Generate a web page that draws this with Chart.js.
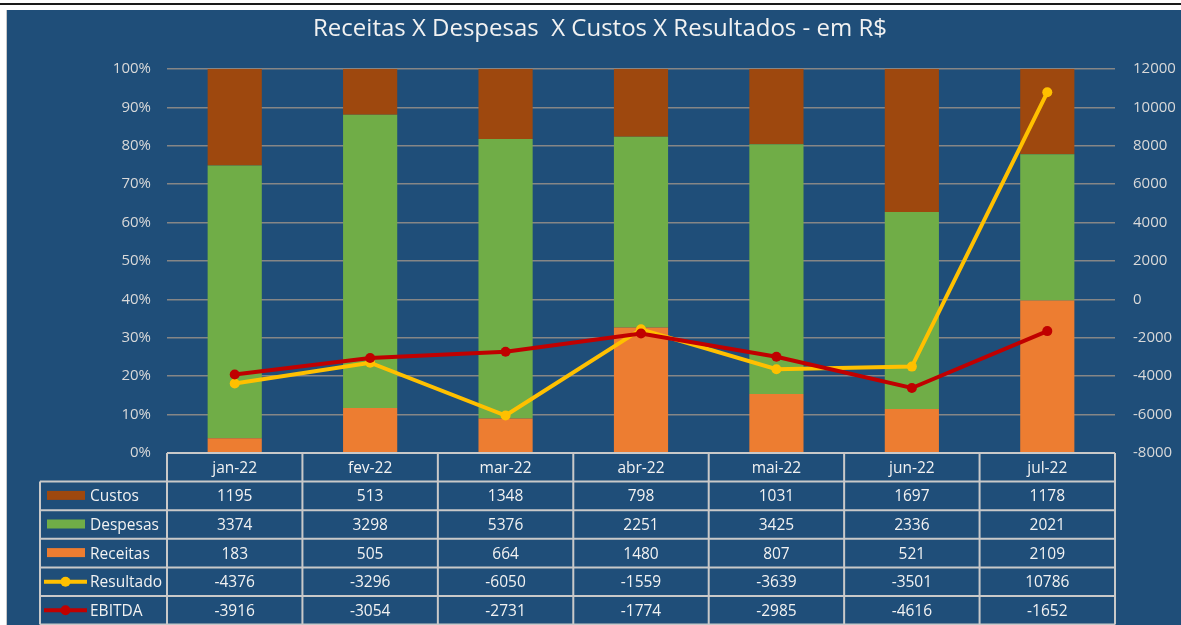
<!DOCTYPE html>
<html lang="pt-BR">
<head>
<meta charset="utf-8">
<title>Receitas X Despesas X Custos X Resultados</title>
<script src="https://cdn.jsdelivr.net/npm/chart.js@4/dist/chart.umd.min.js"></script>
<style>
  html, body { margin: 0; padding: 0; background: #fff; width: 1181px; height: 625px; overflow: hidden; }
  .linha-topo { position: absolute; left: 0; top: 3px; width: 1181px; height: 2px; background: #1a1a1a; }
  .caixa { position: absolute; left: 6px; top: 10px; width: 1174px; height: 615px; background: #1F4E79; border-left: 1px solid #c8c8c8; }
  canvas { display: block; }
</style>
</head>
<body>
<div class="linha-topo"></div>
<div class="caixa">
  <canvas id="financeChart" width="1174" height="615"></canvas>
</div>

<script>
// dados do gráfico
const meses = ['jan-22', 'fev-22', 'mar-22', 'abr-22', 'mai-22', 'jun-22', 'jul-22'];
const custos = [1195, 513, 1348, 798, 1031, 1697, 1178];
const despesas = [3374, 3298, 5376, 2251, 3425, 2336, 2021];
const receitas = [183, 505, 664, 1480, 807, 521, 2109];
const resultado = [-4376, -3296, -6050, -1559, -3639, -3501, 10786];
const ebitda = [-3916, -3054, -2731, -1774, -2985, -4616, -1652];

const titulo = 'Receitas X Despesas  X Custos X Resultados - em R$';

const corCustos = '#9E480E';
const corDespesas = '#70AD47';
const corReceitas = '#ED7D31';
const corResultado = '#FFC000';
const corEbitda = '#C00000';
const corTexto = '#F2F2F2';
const corBorda = '#C9C9C9';
const fonte = '"Open Sans", "DejaVu Sans", sans-serif';

// 100% empilhado: cada barra como parte do total do mês
const totais = meses.map((m, i) => custos[i] + despesas[i] + receitas[i]);
const pct = arr => arr.map((v, i) => v / totais[i] * 100);

// linhas da tabela de dados (ordem de cima para baixo)
const linhasTabela = [
  { nome: 'Custos', valores: custos, cor: corCustos, tipo: 'barra' },
  { nome: 'Despesas', valores: despesas, cor: corDespesas, tipo: 'barra' },
  { nome: 'Receitas', valores: receitas, cor: corReceitas, tipo: 'barra' },
  { nome: 'Resultado', valores: resultado, cor: corResultado, tipo: 'linha' },
  { nome: 'EBITDA', valores: ebitda, cor: corEbitda, tipo: 'linha' }
];

// título + tabela de dados embaixo do gráfico
const tabelaPlugin = {
  id: 'tabelaDados',
  afterDraw(chart) {
    const ctx = chart.ctx;
    const area = chart.chartArea;
    const larg = (area.right - area.left) / meses.length;
    const alt = 28.6;
    const esq = 33;
    const topo = area.bottom;
    const base = topo + alt * (linhasTabela.length + 1);

    ctx.save();
    // título
    ctx.fillStyle = corTexto;
    ctx.font = '24px ' + fonte;
    ctx.textAlign = 'center';
    ctx.textBaseline = 'middle';
    ctx.fillText(titulo, 593, 19);

    // grade da tabela
    ctx.strokeStyle = corBorda;
    ctx.lineWidth = 2;
    ctx.beginPath();
    ctx.moveTo(area.left, topo);
    ctx.lineTo(area.right, topo);
    for (let r = 1; r <= linhasTabela.length + 1; r++) {
      ctx.moveTo(esq, topo + alt * r);
      ctx.lineTo(area.right, topo + alt * r);
    }
    ctx.moveTo(esq, topo + alt);
    ctx.lineTo(esq, base);
    for (let c = 0; c <= meses.length; c++) {
      const x = area.left + larg * c;
      ctx.moveTo(x, topo);
      ctx.lineTo(x, base);
    }
    ctx.stroke();

    // cabeçalho com os meses
    ctx.font = '15.5px ' + fonte;
    ctx.fillStyle = corTexto;
    ctx.textAlign = 'center';
    meses.forEach((m, c) => {
      ctx.fillText(m, area.left + larg * (c + 0.5), topo + alt / 2 + 1);
    });

    // linhas de valores
    linhasTabela.forEach((linha, r) => {
      const yc = topo + alt * (r + 1.5);
      // símbolo da legenda
      if (linha.tipo === 'barra') {
        ctx.fillStyle = linha.cor;
        ctx.fillRect(esq + 7, yc - 5, 38, 9);
      } else {
        ctx.strokeStyle = linha.cor;
        ctx.lineWidth = 4;
        ctx.beginPath();
        ctx.moveTo(esq + 4, yc);
        ctx.lineTo(esq + 47, yc);
        ctx.stroke();
        ctx.fillStyle = linha.cor;
        ctx.beginPath();
        ctx.arc(esq + 25.5, yc, 5, 0, Math.PI * 2);
        ctx.fill();
      }
      ctx.fillStyle = corTexto;
      ctx.textAlign = 'left';
      ctx.fillText(linha.nome, esq + 50, yc + 1);
      ctx.textAlign = 'center';
      linha.valores.forEach((v, c) => {
        ctx.fillText(String(v), area.left + larg * (c + 0.5), yc + 1);
      });
    });
    ctx.restore();
  }
};

const ctx = document.getElementById('financeChart').getContext('2d');

new Chart(ctx, {
  type: 'bar',
  data: {
    labels: meses,
    datasets: [
      { type: 'line', label: 'EBITDA', data: ebitda, yAxisID: 'y1', order: 1,
        borderColor: corEbitda, backgroundColor: corEbitda, borderWidth: 4,
        pointRadius: 5, pointBackgroundColor: corEbitda, pointBorderWidth: 0, tension: 0 },
      { type: 'line', label: 'Resultado', data: resultado, yAxisID: 'y1', order: 2,
        borderColor: corResultado, backgroundColor: corResultado, borderWidth: 4,
        pointRadius: 5, pointBackgroundColor: corResultado, pointBorderWidth: 0, tension: 0 },
      { label: 'Receitas', data: pct(receitas), backgroundColor: corReceitas, yAxisID: 'y', order: 3 },
      { label: 'Despesas', data: pct(despesas), backgroundColor: corDespesas, yAxisID: 'y', order: 3 },
      { label: 'Custos', data: pct(custos), backgroundColor: corCustos, yAxisID: 'y', order: 3 }
    ]
  },
  options: {
    responsive: false,
    animation: false,
    events: [],
    layout: { padding: { top: 59, bottom: 172, left: 0, right: 0 } },
    datasets: { bar: { barPercentage: 0.4, categoryPercentage: 1 } },
    plugins: {
      legend: { display: false },
      title: { display: false },
      tooltip: { enabled: false }
    },
    scales: {
      x: {
        stacked: true,
        display: false
      },
      y: {
        stacked: true,
        min: 0,
        max: 100,
        border: { display: false },
        grid: { color: '#868686', lineWidth: 1.6, drawTicks: false },
        ticks: {
          stepSize: 10,
          padding: 16,
          color: '#D9D9D9',
          font: { size: 15, family: fonte },
          callback: v => v + '%'
        },
        afterFit: scale => { scale.width = 160; }
      },
      y1: {
        position: 'right',
        min: -8000,
        max: 12000,
        border: { display: false },
        grid: { display: false, drawTicks: false },
        ticks: {
          stepSize: 2000,
          padding: 18,
          color: '#D9D9D9',
          font: { size: 15, family: fonte },
          callback: v => String(v)
        },
        afterFit: scale => { scale.width = 66; }
      }
    }
  },
  plugins: [tabelaPlugin]
});
</script>
</body>
</html>
